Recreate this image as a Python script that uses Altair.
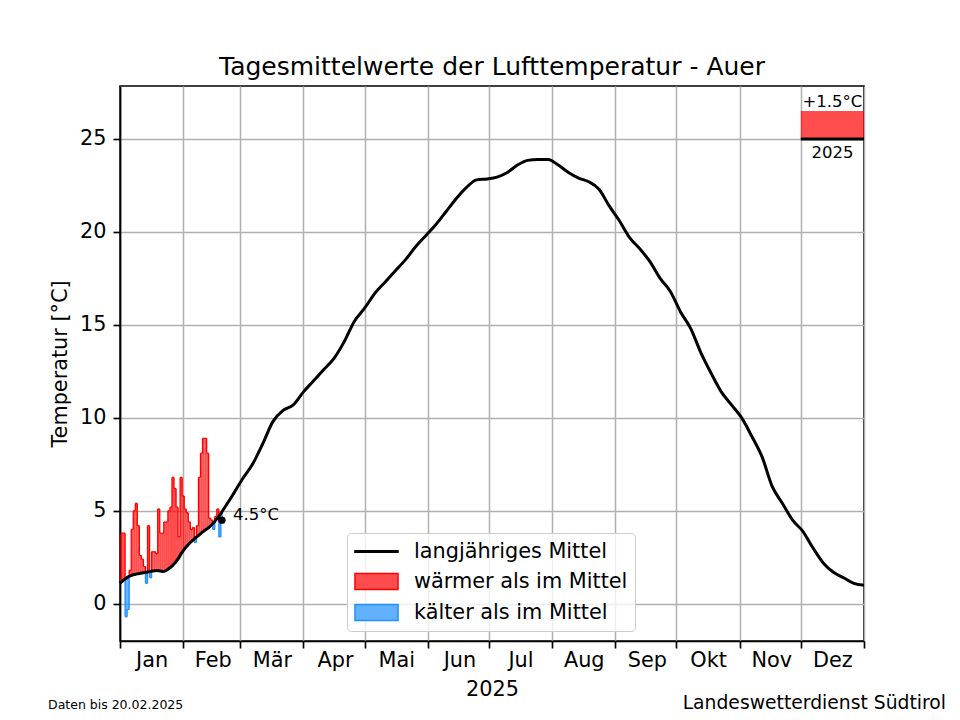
import altair as alt
import pandas as pd

# ---------------- data ----------------
months = ["Jan", "Feb", "Mär", "Apr", "Mai", "Jun", "Jul", "Aug", "Sep", "Okt", "Nov", "Dez"]
month_starts = [0, 31, 59, 90, 120, 151, 181, 212, 243, 273, 304, 334, 365]
month_mids = [15.5, 45.5, 74.5, 105.5, 135.5, 166.5, 196.5, 227.5, 258.5, 288.5, 319.5, 349.5]

# long-term mean (day of year, 0 = 1 Jan)
clim_days = list(range(0, 51)) + list(range(55, 366, 5))
clim_vals = [
    1.10, 1.20, 1.30, 1.38, 1.45, 1.50, 1.55, 1.58, 1.60, 1.62,
    1.64, 1.66, 1.68, 1.70, 1.72, 1.74, 1.76, 1.78, 1.79, 1.78,
    1.76, 1.74, 1.76, 1.82, 1.90, 1.98, 2.08, 2.20, 2.35, 2.50,
    2.70, 2.85, 3.00, 3.12, 3.24, 3.35, 3.45, 3.55, 3.63, 3.72,
    3.82, 3.90, 3.98, 4.06, 4.15, 4.25, 4.37, 4.50, 4.63, 4.78,
    4.95,
    5.8, 6.7, 7.5, 8.6, 9.8, 10.4, 10.7, 11.4, 12.0, 12.6,
    13.2, 14.1, 15.2, 15.9, 16.7, 17.3, 17.9, 18.5, 19.2, 19.8,
    20.4, 21.1, 21.8, 22.4, 22.8, 22.85, 22.95, 23.2, 23.6, 23.85,
    23.9, 23.9, 23.6, 23.2, 22.9, 22.7, 22.3, 21.4, 20.6, 19.7,
    19.1, 18.4, 17.5, 16.8, 15.7, 14.8, 13.5, 12.4, 11.4, 10.7,
    10.0, 9.0, 7.9, 6.3, 5.4, 4.5, 3.9, 3.0, 2.2, 1.7,
    1.4, 1.1, 1.0,
]

# daily means 2025 (1 Jan .. 20 Feb)
obs_days = list(range(0, 51))
obs_vals = [
    1.3, 3.8, 3.8, -0.7, -0.3, 1.8, 4.0, 5.0, 5.4, 4.2,
    2.6, 2.4, 2.0, 1.1, 4.2, 1.4, 2.8, 2.8, 2.7, 5.1,
    3.8, 3.8, 4.4, 4.4, 5.0, 5.2, 6.8, 6.2, 5.2, 3.6,
    6.8, 5.8, 5.1, 4.9, 4.4, 4.0, 4.1, 3.3, 4.2, 6.8,
    8.1, 8.9, 8.9, 8.1, 4.6, 4.5, 4.0, 4.7, 5.1, 3.6,
    4.5,
]

last_day = [50]
last_val = [4.5]
last_label = ["4.5°C"]

anom_year = ["2025"]
anom_base = [25.0]
anom_val = [1.5]
anom_label = ["+1.5°C"]

legend_labels = ["langjähriges Mittel", "wärmer als im Mittel", "kälter als im Mittel"]
title_text = "Tagesmittelwerte der Lufttemperatur - Auer"
footer_left = ["Daten bis 20.02.2025"]
footer_right = ["Landeswetterdienst Südtirol"]

# ---------------- tables ----------------
clim_df = pd.DataFrame({"day": clim_days, "mean": clim_vals})
obs_df = pd.DataFrame({"day": obs_days, "val": obs_vals, "mean": clim_vals[:len(obs_days)]})
last_df = pd.DataFrame({"day": last_day, "val": last_val, "label": last_label})
anom_df = pd.DataFrame({
    "x0": [month_starts[11]], "x1": [month_starts[12]], "xm": [month_mids[11]],
    "base": anom_base, "anom": anom_val, "label": anom_label, "year": anom_year,
})
legend_df = pd.DataFrame({"label": legend_labels})

FONT = "DejaVu Sans"
RED = "red"
BLUE = "#1e90ff"

arr = "[" + ",".join("'" + m + "'" for m in months) + "]"
x_axis = alt.Axis(
    title="2025",
    values=month_starts + month_mids,
    labelExpr=f"datum.value % 1 != 0 ? {arr}[floor(datum.value / 30.5)] : ''",
    tickOpacity={"condition": {"test": "datum.value % 1 == 0", "value": 1}, "value": 0},
    gridOpacity={"condition": {"test": "datum.value % 1 == 0", "value": 1}, "value": 0},
    labelFlush=False,
    labelPadding=2,
    titlePadding=10,
)
y_axis = alt.Axis(title="Temperatur [°C]", values=[0, 5, 10, 15, 20, 25], labelPadding=7, titlePadding=9)

xs = alt.Scale(domain=[0, 365], nice=False, zero=False)
ys = alt.Scale(domain=[-2, 27.85], nice=False, zero=False)

warm = "datum.val >= datum.mean"

bars = alt.Chart(obs_df).transform_calculate(
    x0="datum.day - 0.5", x1="datum.day + 0.5"
).mark_bar(clip=True, fillOpacity=0.7, strokeWidth=0).encode(
    x=alt.X("x0:Q", scale=xs, axis=x_axis),
    x2="x1:Q",
    y=alt.Y("mean:Q", scale=ys, axis=y_axis),
    y2="val:Q",
    fill=alt.condition(warm, alt.value(RED), alt.value(BLUE)),
)

# step outline: tops
tops = alt.Chart(obs_df).transform_calculate(
    x0="datum.day - 0.5", x1="datum.day + 0.5"
).mark_rule(clip=True, strokeWidth=1.3).encode(
    x=alt.X("x0:Q", scale=xs, axis=x_axis),
    x2="x1:Q",
    y=alt.Y("val:Q", scale=ys, axis=y_axis),
    color=alt.condition(warm, alt.value(RED), alt.value(BLUE)),
)

# step outline: vertical edges between days
steps = alt.Chart(obs_df).transform_window(
    next_val="lead(val)", next_mean="lead(mean)", sort=[{"field": "day"}]
).transform_filter("datum.next_val != null").transform_calculate(
    xb="datum.day + 0.5",
    hi="max(datum.val, datum.next_val)",
    lo="min(datum.val, datum.next_val)",
    m="(datum.mean + datum.next_mean) / 2",
)
steps_red = steps.transform_filter("datum.hi > datum.m").transform_calculate(
    ylow="max(datum.lo, datum.m)"
).mark_rule(strokeWidth=1.3, color=RED).encode(
    x=alt.X("xb:Q", scale=xs, axis=x_axis),
    y=alt.Y("hi:Q", scale=ys, axis=y_axis),
    y2="ylow:Q",
)
steps_blue = steps.transform_filter("datum.lo < datum.m").transform_calculate(
    yhigh="min(datum.hi, datum.m)"
).mark_rule(strokeWidth=1.3, color=BLUE).encode(
    x=alt.X("xb:Q", scale=xs, axis=x_axis),
    y=alt.Y("lo:Q", scale=ys, axis=y_axis),
    y2="yhigh:Q",
)

line = alt.Chart(clim_df).mark_line(color="black", strokeWidth=3, interpolate="monotone").encode(
    x=alt.X("day:Q", scale=xs, axis=x_axis),
    y=alt.Y("mean:Q", scale=ys, axis=y_axis),
)

anom_rect = alt.Chart(anom_df).transform_calculate(top="datum.base + datum.anom").mark_rect(
    color=RED, opacity=0.7
).encode(
    x=alt.X("x0:Q", scale=xs, axis=x_axis), x2="x1:Q",
    y=alt.Y("base:Q", scale=ys, axis=y_axis), y2="top:Q",
)
anom_rule = alt.Chart(anom_df).mark_rule(color="black", strokeWidth=3).encode(
    x=alt.X("x0:Q", scale=xs, axis=x_axis), x2="x1:Q",
    y=alt.Y("base:Q", scale=ys, axis=y_axis),
)
anom_txt = alt.Chart(anom_df).transform_calculate(top="datum.base + datum.anom").mark_text(
    font=FONT, fontSize=16.5, baseline="bottom", dy=-1, color="black"
).encode(
    x=alt.X("xm:Q", scale=xs, axis=x_axis),
    y=alt.Y("top:Q", scale=ys, axis=y_axis),
    text="label:N",
)
year_txt = alt.Chart(anom_df).mark_text(
    font=FONT, fontSize=16.5, baseline="top", dy=6, color="black"
).encode(
    x=alt.X("xm:Q", scale=xs, axis=x_axis),
    y=alt.Y("base:Q", scale=ys, axis=y_axis),
    text="year:N",
)

dot = alt.Chart(last_df).mark_circle(color="black", size=55, opacity=1).encode(
    x=alt.X("day:Q", scale=xs, axis=x_axis),
    y=alt.Y("val:Q", scale=ys, axis=y_axis),
)
dot_txt = alt.Chart(last_df).mark_text(
    font=FONT, fontSize=16.5, align="left", baseline="middle", dx=11, dy=-5, color="black"
).encode(
    x=alt.X("day:Q", scale=xs, axis=x_axis),
    y=alt.Y("val:Q", scale=ys, axis=y_axis),
    text="label:N",
)

shape_range = [
    "M-2.05,-0.07L2.05,-0.07L2.05,0.07L-2.05,0.07Z",
    "M-2.05,-0.76L2.05,-0.76L2.05,0.76L-2.05,0.76Z",
    "M-2.05,-0.76L2.05,-0.76L2.05,0.76L-2.05,0.76Z",
]
leg = alt.Legend(
    title=None, orient="none", legendX=227, legendY=447,
    symbolSize=441, symbolStrokeWidth=1.5, symbolOffset=11, labelOffset=26,
    labelFont=FONT, labelFontSize=20.8, labelColor="black", labelLimit=500,
    rowPadding=8, padding=7, fillColor="rgba(255,255,255,0.8)",
    strokeColor="#cccccc", cornerRadius=4, symbolOpacity=1,
)
legend_layer = alt.Chart(legend_df).transform_filter("false").mark_point(filled=True, opacity=1).encode(
    shape=alt.Shape("label:N", scale=alt.Scale(domain=legend_labels, range=shape_range), legend=leg),
    fill=alt.Fill("label:N", scale=alt.Scale(domain=legend_labels, range=["black", "#ff4d4d", "#62b1ff"]), legend=leg),
    stroke=alt.Stroke("label:N", scale=alt.Scale(domain=legend_labels, range=["black", RED, BLUE]), legend=leg),
)

foot_l = alt.Chart(pd.DataFrame({"t": footer_left})).mark_text(
    font=FONT, fontSize=12.5, align="left", baseline="middle", color="black"
).encode(x=alt.value(-72), y=alt.value(619), text="t:N")
foot_r = alt.Chart(pd.DataFrame({"t": footer_right})).mark_text(
    font=FONT, fontSize=18.75, align="right", baseline="middle", color="black"
).encode(x=alt.value(826), y=alt.value(617), text="t:N")

chart = alt.layer(
    bars, tops, steps_red, steps_blue, line, anom_rect, anom_rule, anom_txt, year_txt,
    dot, dot_txt, legend_layer, foot_l, foot_r
).properties(
    width=744, height=555,
    title=alt.TitleParams(text=title_text, font=FONT, fontSize=25, fontWeight="normal",
                          color="black", offset=6, anchor="middle"),
    autosize=alt.AutoSizeParams(type="none"),
    padding={"left": 112, "top": 78, "right": 88, "bottom": 71},
).configure_view(
    stroke="black", strokeWidth=1.67
).configure_axis(
    domainColor="black", domainWidth=1.67, tickColor="black", tickWidth=1.67, tickSize=7,
    gridColor="#b0b0b0", gridWidth=1.5, labelFont=FONT, labelFontSize=20.8, labelColor="black",
    titleFont=FONT, titleFontSize=20.8, titleFontWeight="normal", titleColor="black",
)

chart.save("out.html", embed_options={"renderer": "svg", "actions": False})
